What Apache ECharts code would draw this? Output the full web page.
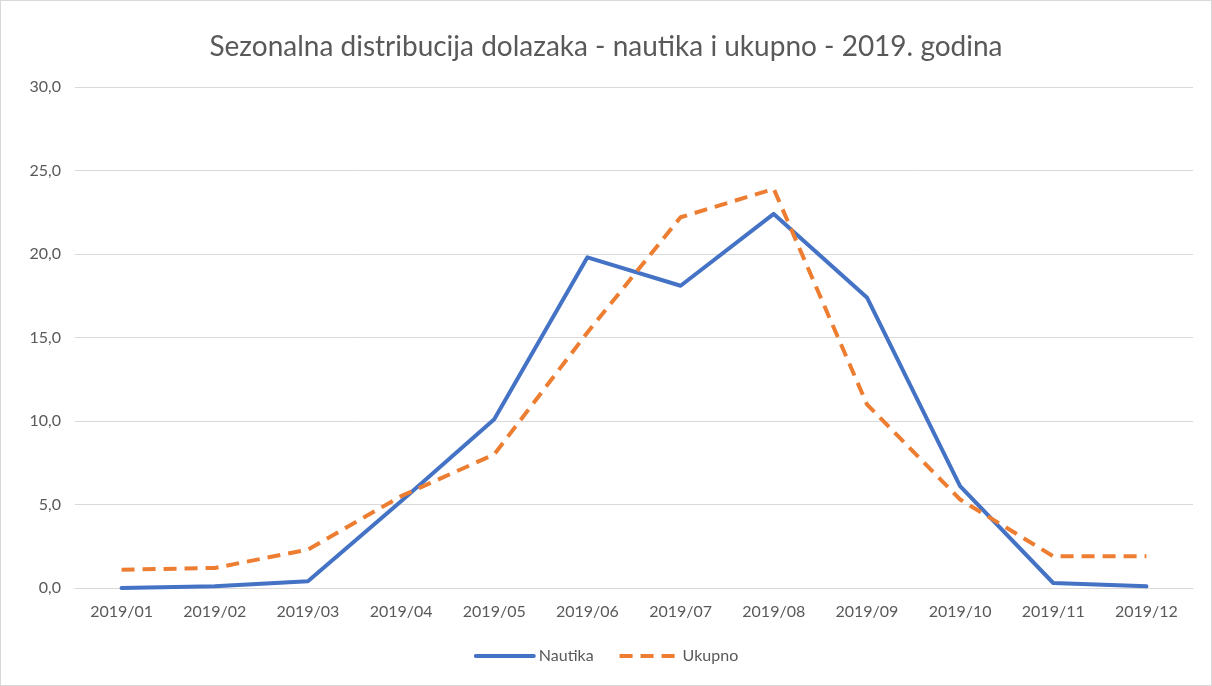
<!DOCTYPE html>
<html>
<head>
<meta charset="utf-8">
<script src="https://cdn.jsdelivr.net/npm/echarts@6/dist/echarts.min.js"></script>
<style>
  * { margin: 0; padding: 0; }
  html, body { width: 1212px; height: 686px; background: #fff; }
  #main { width: 1210px; height: 684px; border: 1px solid #d9d9d9; }
</style>
</head>
<body>
<div id="main"></div>
<script>
// mjeseci i vrijednosti (% dolazaka)
var months = ['2019/01','2019/02','2019/03','2019/04','2019/05','2019/06','2019/07','2019/08','2019/09','2019/10','2019/11','2019/12'];
var nautika = [0.0, 0.1, 0.4, 5.2, 10.1, 19.8, 18.1, 22.4, 17.4, 6.1, 0.3, 0.1];
var ukupno = [1.1, 1.2, 2.3, 5.5, 8.0, 15.3, 22.2, 23.9, 11.0, 5.3, 1.9, 1.9];
var seriesNames = ['Nautika', 'Ukupno'];

var font = 'Lato';
var chart = echarts.init(document.getElementById('main'));
chart.setOption({
  animation: false,
  color: ['#4472C4', '#ED7D31'],
  title: {
    text: 'Sezonalna distribucija dolazaka - nautika i ukupno - 2019. godina',
    left: 'center',
    top: 27,
    textStyle: { fontFamily: font, fontSize: 28, fontWeight: 'normal', color: '#595959' }
  },
  legend: {
    data: seriesNames,
    bottom: 16,
    left: 'center',
    itemWidth: 58,
    itemHeight: 14,
    itemGap: 24,
    itemStyle: { opacity: 0 },
    lineStyle: { width: 4 },
    textStyle: { fontFamily: font, fontSize: 16, color: '#595959' }
  },
  grid: { left: 74, right: 18, top: 86, bottom: 97 },
  xAxis: {
    type: 'category',
    data: months,
    boundaryGap: true,
    axisLine: { lineStyle: { color: '#d9d9d9' } },
    axisTick: { show: false },
    axisLabel: { fontFamily: font, fontSize: 16, color: '#595959', margin: 16 }
  },
  yAxis: {
    type: 'value',
    min: 0, max: 30, interval: 5,
    axisLine: { show: false },
    axisTick: { show: false },
    splitLine: { lineStyle: { color: '#d9d9d9' } },
    axisLabel: {
      fontFamily: font, fontSize: 16, color: '#595959', margin: 14,
      formatter: function (v) { return v.toFixed(1).replace('.', ','); }
    }
  },
  series: [
    {
      name: seriesNames[0], type: 'line', data: nautika,
      symbol: 'none',
      lineStyle: { width: 4, cap: 'round', join: 'round' }
    },
    {
      name: seriesNames[1], type: 'line', data: ukupno,
      symbol: 'none',
      lineStyle: { width: 4, type: [13, 8] }
    }
  ]
});
</script>
</body>
</html>
